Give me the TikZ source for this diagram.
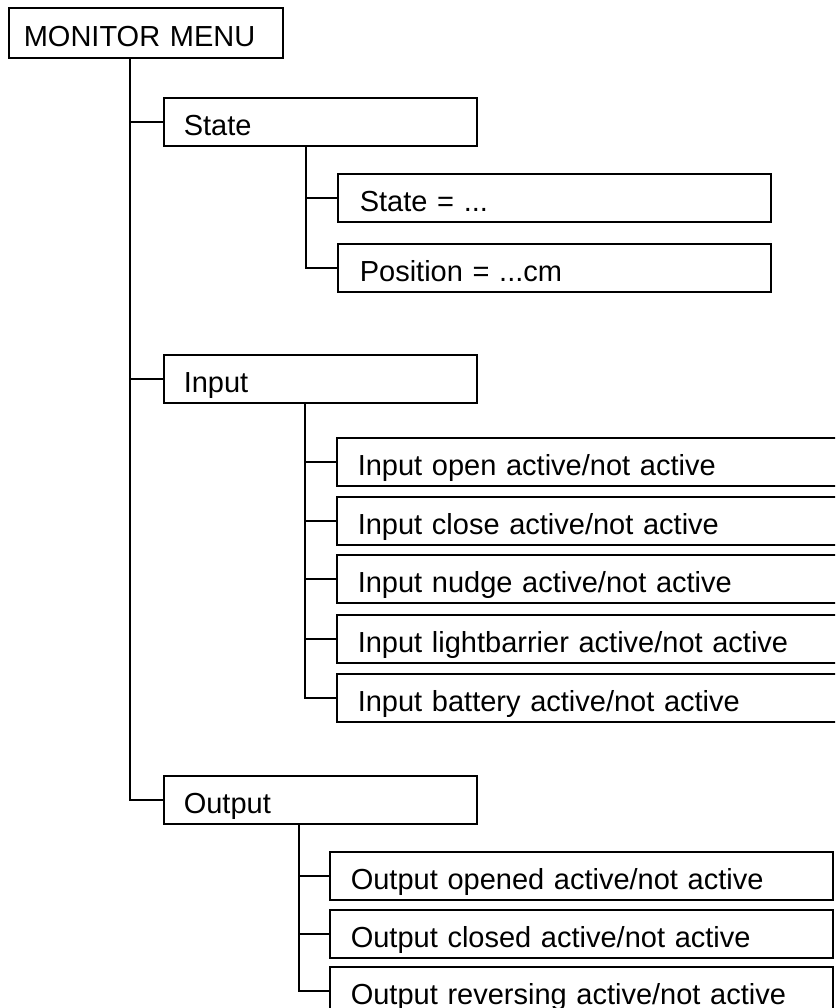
\documentclass[tikz,border=0pt]{standalone}
\usepackage{fontspec}
\setmainfont{Liberation Sans}
\usepackage{tikz}
\usetikzlibrary{positioning}
\tikzset{
    menubox/.style={draw, line width=1.6pt, rectangle, anchor=north west, inner ysep=0pt,
        minimum height=48pt, text height=33pt, text depth=6pt, align=left,
        font=\fontsize{29}{34}\selectfont},
    topbox/.style={menubox, minimum height=50pt, inner xsep=15pt, text width=244pt},
    groupbox/.style={menubox, inner xsep=20pt, text width=273pt},
    statebox/.style={menubox, inner xsep=22pt, text width=389pt},
    inbox/.style={menubox, inner xsep=21pt, text width=492pt},
    outbox/.style={menubox, inner xsep=21pt, text width=461pt},
    wire/.style={line width=1.6pt}
}
\begin{document}
\begin{tikzpicture}[x=1pt, y=-1pt]
                    \useasboundingbox (0,0) rectangle (835,1008);
                    \clip (0,0) rectangle (835,1008);
                    \fill[white] (0,0) rectangle (835,1008);

                    \node[topbox] (menu) at (8,7) {MONITOR MENU};

                    \node[groupbox] (state) at (163,97) {State};
                    \node[statebox] (stateval) at (337,173) {State = ...};
                    \node[statebox] (position) at (337,243) {Position = ...cm};

                    \node[groupbox] (input) at (163,354) {Input};
                    \node[inbox] (inopen) at (336,437) {Input open active/not active};
                    \node[inbox] (inclose) at (336,496) {Input close active/not active};
                    \node[inbox] (innudge) at (336,554) {Input nudge active/not active};
                    \node[inbox] (inlight) at (336,614) {Input lightbarrier active/not active};
                    \node[inbox] (inbattery) at (336,673) {Input battery active/not active};

                    \node[groupbox] (output) at (163,775) {Output};
                    \node[outbox] (outopened) at (329,851) {Output opened active/not active};
                    \node[outbox] (outclosed) at (329,909) {Output closed active/not active};
                    \node[outbox] (outreversing) at (329,966) {Output reversing active/not active};

                    \draw[wire] ([xshift=122pt]menu.south west) |- (state.west);
                    \draw[wire] ([xshift=122pt]menu.south west) |- (input.west);
                    \draw[wire] ([xshift=122pt]menu.south west) |- (output.west);

                    \draw[wire] ([xshift=143pt]state.south west) |- (stateval.west);
                    \draw[wire] ([xshift=143pt]state.south west) |- (position.west);

                    \draw[wire] ([xshift=142pt]input.south west) |- (inopen.west);
                    \draw[wire] ([xshift=142pt]input.south west) |- (inclose.west);
                    \draw[wire] ([xshift=142pt]input.south west) |- (innudge.west);
                    \draw[wire] ([xshift=142pt]input.south west) |- (inlight.west);
                    \draw[wire] ([xshift=142pt]input.south west) |- (inbattery.west);

                    \draw[wire] ([xshift=136pt]output.south west) |- (outopened.west);
                    \draw[wire] ([xshift=136pt]output.south west) |- (outclosed.west);
                    \draw[wire] ([xshift=136pt]output.south west) |- (outreversing.west);
                \end{tikzpicture}
\end{document}
